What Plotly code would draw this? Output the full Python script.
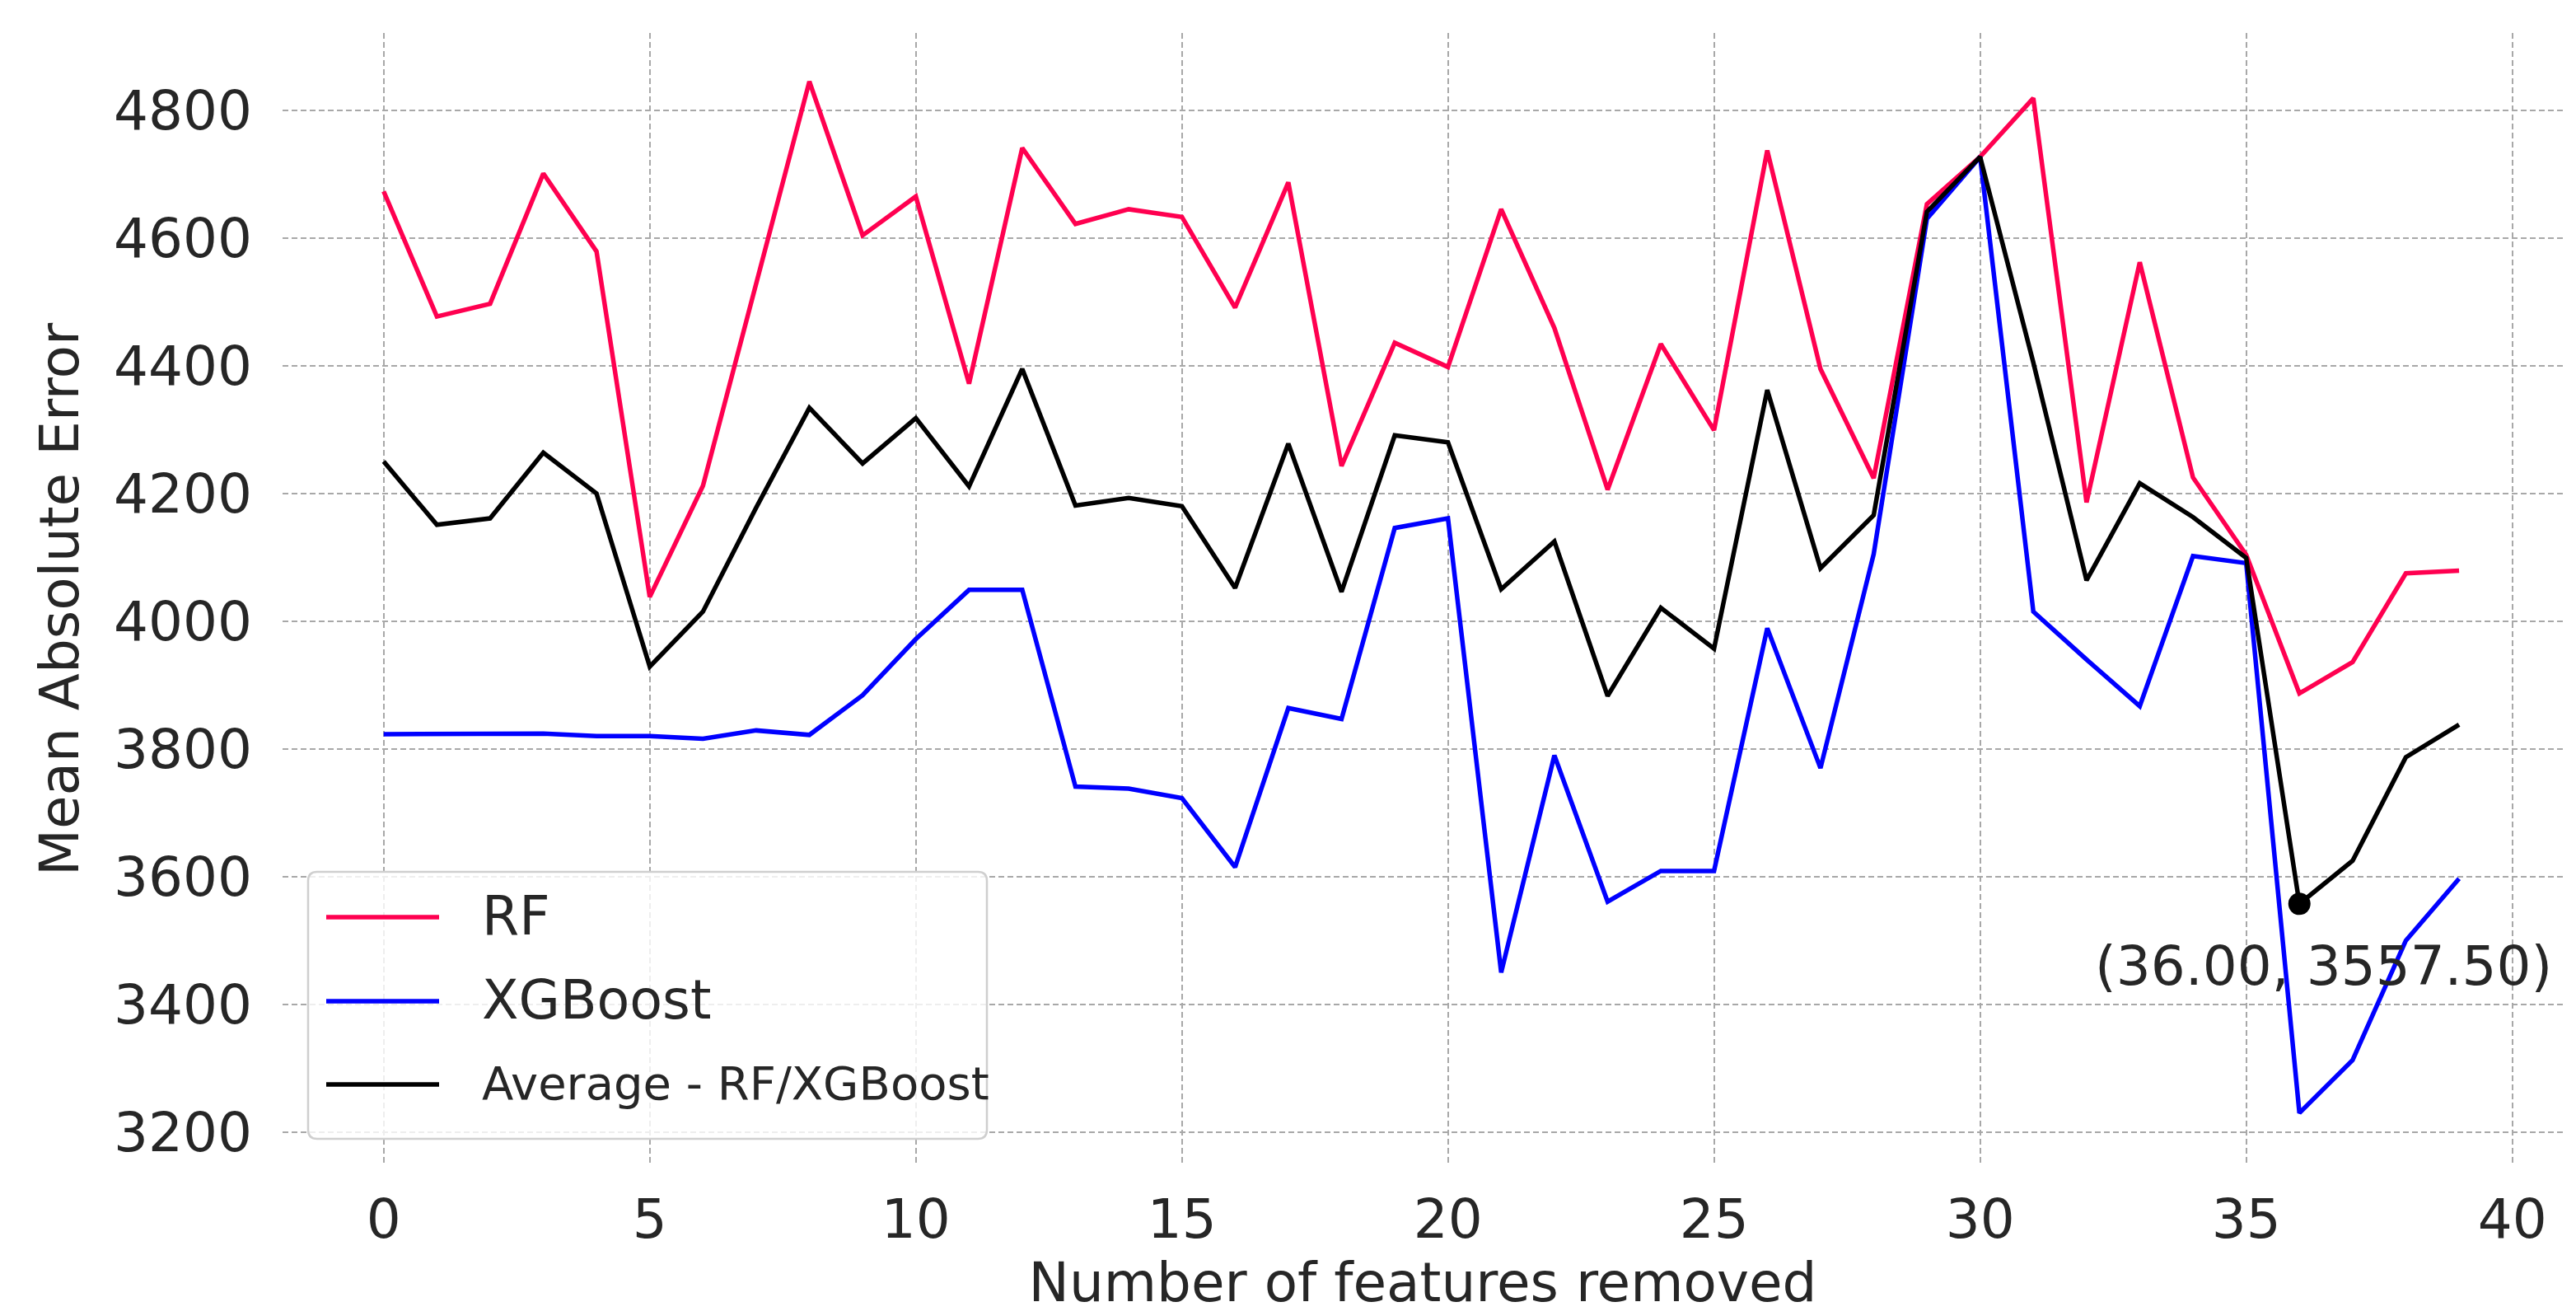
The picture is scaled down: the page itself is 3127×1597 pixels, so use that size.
import plotly.graph_objects as go

# ---------------- data ----------------
features_removed = list(range(40))

rf_mae = [4673, 4477, 4497, 4701, 4579, 4038, 4212, 4530, 4845, 4604,
          4665, 4372, 4741, 4622, 4645, 4633, 4491, 4687, 4243, 4436,
          4398, 4645, 4459, 4206, 4434, 4299, 4737, 4395, 4224, 4653,
          4727, 4819, 4186, 4562, 4225, 4104, 3887, 3936, 4075, 4079]

xgb_mae = [3823, 3823, 3823, 3824, 3820, 3820, 3816, 3829, 3822, 3884,
           3972, 4049, 4049, 3741, 3738, 3723, 3615, 3864, 3847, 4146,
           4161, 3450, 3790, 3561, 3609, 3609, 3989, 3770, 4105, 4630,
           4727, 4015, 3940, 3867, 4102, 4091, 3230, 3313, 3500, 3597]

avg_mae = [4250, 4151, 4161, 4264, 4200, 3929, 4015, 4178, 4334, 4247,
           4318, 4211, 4395, 4181, 4193, 4180, 4052, 4278, 4046, 4291,
           4280, 4050, 4125, 3883, 4021, 3957, 4362, 4083, 4166, 4641,
           4727, 4405, 4064, 4216, 4163, 4099, 3557.5, 3625, 3787, 3838]

best_x = [36]
best_y = [3557.5]
best_label = "(36.00, 3557.50)"

x_ticks = [0, 5, 10, 15, 20, 25, 30, 35, 40]
y_ticks = [3200, 3400, 3600, 3800, 4000, 4200, 4400, 4600, 4800]

series_names = ["RF", "XGBoost", "Average - RF/XGBoost"]
series_colors = ["#ff0050", "#0000ff", "#000000"]

# ---------------- layout geometry ----------------
W, H = 3127, 1597
L, R, T, B = 335, 24, 32, 190
PW, PH = W - L - R, H - T - B
FONT = "DejaVu Sans"
TXT = "#262626"


def px(xp):
    return (xp - L) / PW


def py(yp):
    return (H - B - yp) / PH


fig = go.Figure()
for name, vals, col in zip(series_names, [rf_mae, xgb_mae, avg_mae], series_colors):
    fig.add_trace(go.Scatter(x=features_removed, y=vals, mode="lines", name=name,
                             line=dict(color=col, width=5.5), showlegend=False))

fig.add_trace(go.Scatter(x=best_x, y=best_y, mode="markers",
                         marker=dict(color="black", size=27), showlegend=False))

fig.add_annotation(x=best_x[0], y=best_y[0], text=best_label, showarrow=False,
                   xanchor="center", yanchor="middle", xshift=29, yshift=-76,
                   font=dict(family=FONT, size=66, color=TXT))

# ---------------- manual legend (matplotlib-like) ----------------
lx0, lx1, ly0, ly1, rr = 366, 1190, 1050, 1374, 11
rx, ry = rr / PW, rr / PH
x0, x1, y0, y1 = px(lx0), px(lx1), py(ly1), py(ly0)
path = (f"M{x0 + rx},{y1} L{x1 - rx},{y1} Q{x1},{y1} {x1},{y1 - ry} "
        f"L{x1},{y0 + ry} Q{x1},{y0} {x1 - rx},{y0} L{x0 + rx},{y0} "
        f"Q{x0},{y0} {x0},{y0 + ry} L{x0},{y1 - ry} Q{x0},{y1} {x0 + rx},{y1} Z")
fig.add_shape(type="path", path=path, xref="paper", yref="paper", layer="above",
              line=dict(color="#cfcfcf", width=2.5), fillcolor="rgba(255,255,255,0.8)")

rows = [1105, 1207, 1308]
sizes = [65, 65, 56]
for name, col, yr, fs in zip(series_names, series_colors, rows, sizes):
    fig.add_shape(type="line", xref="paper", yref="paper", layer="above",
                  x0=px(388), x1=px(525), y0=py(yr), y1=py(yr),
                  line=dict(color=col, width=5.5))
    fig.add_annotation(xref="paper", yref="paper", x=px(575), y=py(yr - 2),
                       text=name, showarrow=False, xanchor="left", yanchor="middle",
                       font=dict(family=FONT, size=fs, color=TXT))

grid = dict(showgrid=True, gridcolor="#a8a8a8", gridwidth=2, griddash="7px,4px",
            zeroline=False, showline=False, ticks="")

fig.update_layout(
    width=W, height=H,
    margin=dict(l=L, r=R, t=T, b=B),
    paper_bgcolor="white", plot_bgcolor="white",
    font=dict(family=FONT, size=66, color=TXT),
    showlegend=False,
    xaxis=dict(range=[-1.9, 40.95], tickmode="array", tickvals=x_ticks,
               ticklabelstandoff=20,
               tickfont=dict(family=FONT, size=66, color=TXT),
               title=dict(text="Number of features removed", standoff=0,
                          font=dict(family=FONT, size=66, color=TXT)),
               **grid),
    yaxis=dict(range=[3147, 4921], tickmode="array", tickvals=y_ticks,
               ticklabelstandoff=36,
               tickfont=dict(family=FONT, size=66, color=TXT),
               title=dict(text="Mean Absolute Error", standoff=20,
                          font=dict(family=FONT, size=66, color=TXT)),
               **grid),
)

fig.write_html("out.html")
